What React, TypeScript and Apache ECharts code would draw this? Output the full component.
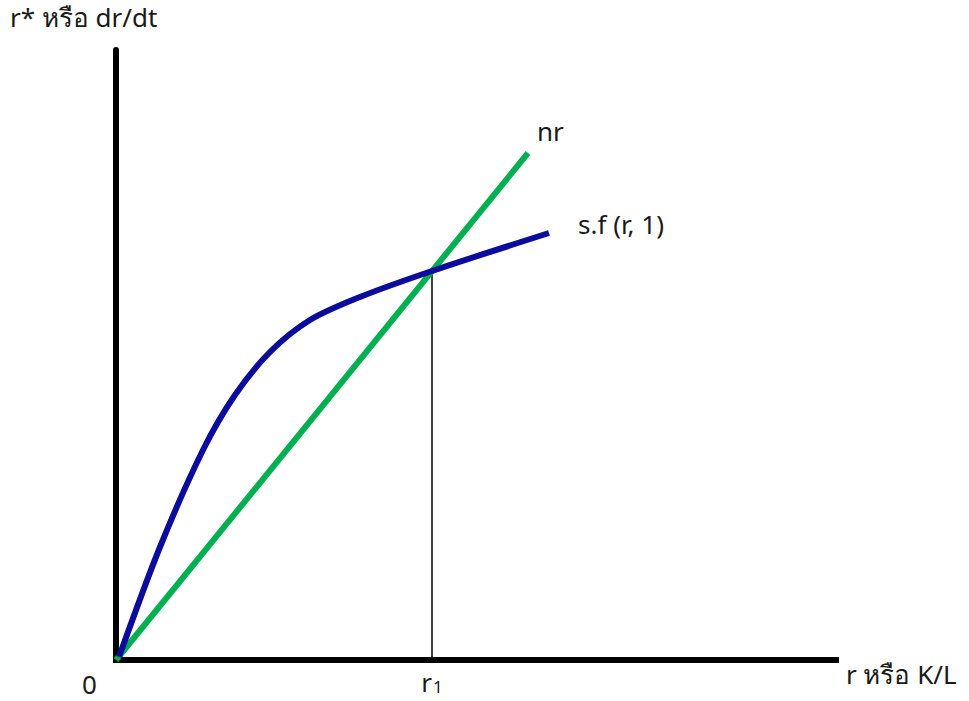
import React, { useEffect, useRef } from "react";
import * as echarts from "echarts";

// Data (abstract units): x = K/L (r), y = r* / dr/dt
const nrLine: [number, number][] = [
  [0, 0],
  [41.2, 50.7],
];

const sfCurve: [number, number][] = [
  [0.3, 0.3],
  [4.4, 11.3],
  [8.7, 21.0],
  [11.9, 26.5],
  [15.4, 30.8],
  [19.4, 34.0],
  [24.4, 36.3],
  [31.6, 38.9],
  [43.3, 42.7],
];

const r1Value = 31.6;
const r1Height = 38.9;

const labels = {
  yName: "r* หรือ dr/dt",
  xName: "r หรือ K/L",
  origin: "0",
  nr: "nr",
  sf: "s.f (r, 1)",
};

const FONT = '"Noto Sans", "DejaVu Sans", sans-serif';
const TEXT = "#1a1a1a";

export default function App() {
  const ref = useRef<HTMLDivElement>(null);

  useEffect(() => {
    if (!ref.current) return;
    const chart = echarts.init(ref.current, null, { renderer: "svg" });
    const lastNr = nrLine.length - 1;
    const lastSf = sfCurve.length - 1;
    const txt = { fontSize: 26, fontFamily: FONT, color: TEXT };
    chart.setOption({
      animation: false,
      backgroundColor: "#ffffff",
      grid: { left: 116, right: 133, top: 50, bottom: 41 },
      xAxis: {
        type: "value",
        min: 0,
        max: 72,
        axisLine: { show: true, lineStyle: { color: "#000", width: 6, cap: "square" } },
        axisTick: { show: false },
        axisLabel: { show: false },
        splitLine: { show: false },
      },
      yAxis: {
        type: "value",
        min: 0,
        max: 61,
        axisLine: { show: true, lineStyle: { color: "#000", width: 6 } },
        axisTick: { show: false },
        axisLabel: { show: false },
        splitLine: { show: false },
      },
      graphic: [
        {
          type: "text",
          left: 10,
          top: 4,
          style: { text: labels.yName, fontSize: 26, fontFamily: FONT, fill: TEXT },
        },
        {
          type: "text",
          left: 846,
          top: 661,
          style: { text: labels.xName, fontSize: 26, fontFamily: FONT, fill: TEXT },
        },
      ],
      series: [
        {
          type: "line",
          name: "r1",
          data: [
            {
              value: [r1Value, 0],
              label: {
                show: true,
                position: "bottom",
                distance: 10,
                formatter: "{a|r}{b|1}",
                rich: {
                  a: { fontSize: 26, fontFamily: FONT, color: TEXT, lineHeight: 24 },
                  b: { fontSize: 17, fontFamily: FONT, color: TEXT, lineHeight: 16, padding: [8, 0, 0, 1] },
                },
              },
            },
            { value: [r1Value, r1Height], label: { show: false } },
          ],
          symbol: "circle",
          symbolSize: 0.1,
          showSymbol: true,
          itemStyle: { color: "transparent" },
          lineStyle: { color: "#000", width: 1.5 },
          z: 1,
        },
        {
          type: "line",
          name: "nr",
          data: nrLine.map((p, i) => ({
            value: p,
            label:
              i === lastNr
                ? { show: true, position: "right", distance: 5, offset: [4, -22], formatter: labels.nr, ...txt }
                : { show: true, position: "left", distance: 5, offset: [-14, 24], formatter: labels.origin, ...txt },
          })),
          symbol: "circle",
          symbolSize: 0.1,
          showSymbol: true,
          itemStyle: { color: "transparent" },
          lineStyle: { color: "#00b050", width: 6 },
          z: 3,
        },
        {
          type: "line",
          name: "sf",
          data: sfCurve.map((p, i) => ({
            value: p,
            label:
              i === lastSf
                ? { show: true, position: "right", distance: 5, offset: [24, -9], formatter: labels.sf, ...txt }
                : { show: false },
          })),
          smooth: 0.3,
          symbol: "circle",
          symbolSize: 0.1,
          showSymbol: true,
          itemStyle: { color: "transparent" },
          lineStyle: { color: "#0c0c9c", width: 6 },
          z: 4,
        },
      ],
    });
    return () => chart.dispose();
  }, []);

  return (
    <div
      ref={ref}
      style={{ position: "absolute", left: 0, top: 0, width: 969, height: 701 }}
    />
  );
}
